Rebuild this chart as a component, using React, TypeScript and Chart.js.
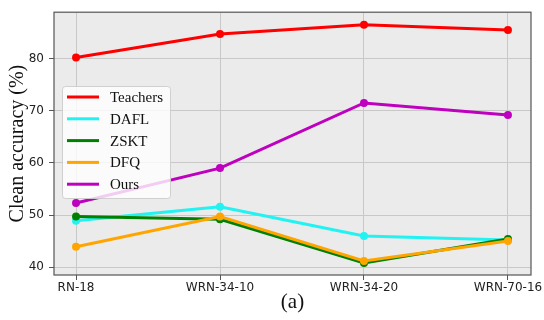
import React, { useEffect, useRef } from "react";
import { Chart, registerables } from "chart.js";

Chart.register(...registerables);

const categories = ["RN-18", "WRN-34-10", "WRN-34-20", "WRN-70-16"];
const teachers = [80.2, 84.7, 86.5, 85.5];
const dafl = [48.9, 51.6, 46.0, 45.2];
const zskt = [49.7, 49.2, 40.8, 45.4];
const dfq = [43.9, 49.7, 41.2, 45.0];
const ours = [52.3, 59.0, 71.5, 69.2];
const yTicks = [40, 50, 60, 70, 80];

const seriesNames = ["Teachers", "DAFL", "ZSKT", "DFQ", "Ours"];
const seriesColors = ["#ff0000", "#22f2f2", "#008000", "#ffa500", "#bf00bf"];
const seriesValues = [teachers, dafl, zskt, dfq, ours];

const plotDecor = {
  id: "plotDecor",
  beforeDraw(chart: any) {
    const { ctx, chartArea: a } = chart;
    ctx.save();
    ctx.fillStyle = "#ebebeb";
    ctx.fillRect(a.left, a.top, a.right - a.left, a.bottom - a.top);
    ctx.restore();
  },
  beforeDatasetsDraw(chart: any) {
    const { ctx, chartArea: a } = chart;
    ctx.save();
    ctx.strokeStyle = "#555555";
    ctx.lineWidth = 1.2;
    ctx.strokeRect(a.left, a.top, a.right - a.left, a.bottom - a.top);
    ctx.restore();
  },
  afterDatasetsDraw(chart: any) {
    const { ctx, chartArea: a } = chart;
    const x0 = a.left + 8;
    const y0 = 86;
    const w = 108;
    const h = 112;
    ctx.save();
    ctx.fillStyle = "rgba(255,255,255,0.8)";
    ctx.strokeStyle = "rgba(204,204,204,0.9)";
    ctx.lineWidth = 1;
    ctx.beginPath();
    (ctx as any).roundRect(x0 + 0.5, y0 + 0.5, w, h, 3);
    ctx.fill();
    ctx.stroke();
    ctx.font = "15px 'Liberation Serif', 'Times New Roman', serif";
    ctx.textBaseline = "middle";
    ctx.textAlign = "left";
    seriesNames.forEach((name, i) => {
      const y = y0 + 11 + i * 21.8;
      ctx.strokeStyle = seriesColors[i];
      ctx.lineWidth = 3;
      ctx.beginPath();
      ctx.moveTo(x0 + 5, y);
      ctx.lineTo(x0 + 37, y);
      ctx.stroke();
      ctx.fillStyle = "#111111";
      ctx.fillText(name, x0 + 48, y + 1);
    });
    ctx.restore();
  },
};

export default function App() {
  const ref = useRef<HTMLCanvasElement | null>(null);
  useEffect(() => {
    if (!ref.current) return;
    const datasets = seriesNames.map((name, i) => ({
      label: name,
      data: seriesValues[i].map((v, j) => ({ x: j, y: v })),
      borderColor: seriesColors[i],
      backgroundColor: seriesColors[i],
      borderWidth: 3,
      pointRadius: 4,
      pointBorderWidth: 0,
      pointHoverRadius: 4,
      tension: 0,
      order: seriesNames.length - i,
    }));
    const chart = new Chart(ref.current, {
      type: "line",
      data: { datasets },
      plugins: [plotDecor],
      options: {
        animation: false,
        responsive: false,
        maintainAspectRatio: false,
        layout: { padding: { top: 9, right: 13, left: 0, bottom: 0 } },
        plugins: { legend: { display: false }, tooltip: { enabled: false } },
        scales: {
          x: {
            type: "linear",
            min: -0.153,
            max: 3.16,
            afterBuildTicks: (s: any) => {
              s.ticks = categories.map((_, i) => ({ value: i }));
            },
            afterFit: (s: any) => {
              s.height = 45;
            },
            ticks: {
              callback: (v: any) => categories[v as number] ?? "",
              font: { family: "'DejaVu Sans', sans-serif", size: 12 },
              color: "#222222",
              padding: 1,
              maxRotation: 0,
              autoSkip: false,
            },
            grid: { color: "#c8c8c8", lineWidth: 1, tickLength: 5, tickColor: "#555555", drawOnChartArea: true },
            border: { display: false },
            title: {
              display: true,
              text: "(a)",
              font: { family: "'Liberation Serif', 'Times New Roman', serif", size: 21 },
              color: "#111111",
              padding: { top: 0, bottom: 5 },
            },
          },
          y: {
            type: "linear",
            min: 38.5,
            max: 88.9,
            afterBuildTicks: (s: any) => {
              s.ticks = yTicks.map((v) => ({ value: v }));
            },
            afterFit: (s: any) => {
              s.width = 54;
            },
            ticks: {
              font: { family: "'DejaVu Sans', sans-serif", size: 12 },
              color: "#222222",
              padding: 5,
            },
            grid: { color: "#c8c8c8", lineWidth: 1, tickLength: 5, tickColor: "#555555" },
            border: { display: false },
            title: {
              display: true,
              text: "Clean accuracy (%)",
              font: { family: "'Liberation Serif', 'Times New Roman', serif", size: 20 },
              color: "#111111",
              padding: { top: 6, bottom: 0 },
            },
          },
        },
      },
    });
    return () => chart.destroy();
  }, []);
  return (
    <div style={{ position: "fixed", left: 0, top: 0, width: 544, height: 320, background: "#fff" }}>
      <canvas ref={ref} width={544} height={320} style={{ width: 544, height: 320, display: "block" }} />
    </div>
  );
}
